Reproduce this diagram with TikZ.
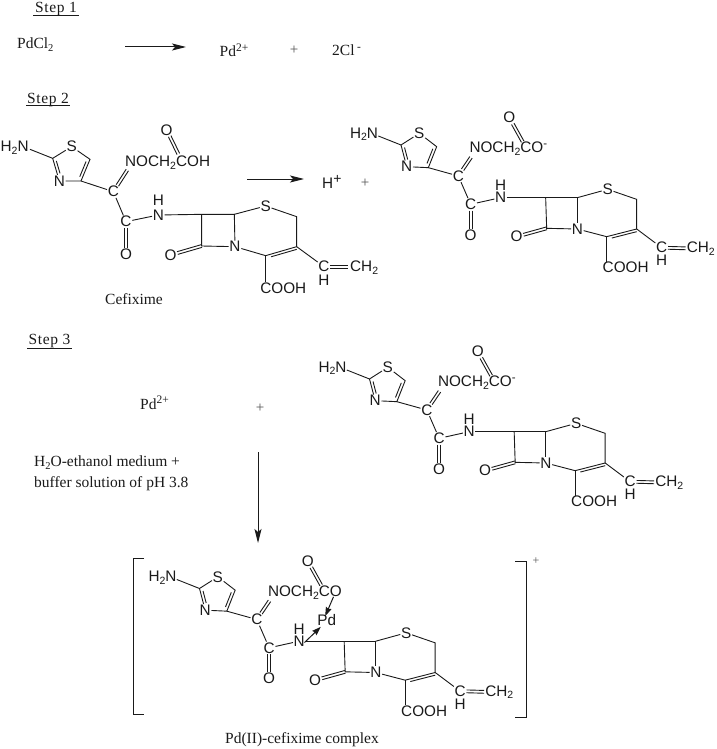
\documentclass[tikz,border=0pt]{standalone}
\usepackage{fontspec}
\setmainfont{Liberation Serif}
\setsansfont{Liberation Sans}
\newfontfamily\stepfont[LetterSpace=4]{Liberation Serif}
\usetikzlibrary{arrows.meta,calc}
\newcommand{\sbs}[1]{\raisebox{-2.8pt}{\fontsize{10.5}{10.5}\selectfont #1}}
\newcommand{\sps}[1]{\raisebox{5.5pt}{\fontsize{11.5}{11.5}\selectfont #1}}
\definecolor{ink}{HTML}{1A1A1A}
\tikzset{
  bond/.style={draw=ink,line width=.9pt},
  atom/.style={font=\sffamily\fontsize{15.3}{15.3}\selectfont,text=ink,inner sep=.6pt},
  label/.style={font=\fontsize{15.5}{17}\selectfont,text=ink,inner sep=0pt},
  steplabel/.style={font=\stepfont\fontsize{15.5}{16}\selectfont,text=ink,inner sep=0pt},
  plusmark/.style={font=\fontsize{15}{15}\selectfont,text=ink!75,inner sep=0pt},
  rxn/.style={draw=ink,line width=1pt,-{Stealth[length=14pt,width=7pt,inset=3pt]}},
  pdarrow/.style={draw=ink,line width=1pt,-{Stealth[length=9pt,width=6pt,inset=1pt]}},
  brk/.style={draw=ink,line width=1pt},
  mol/.style={x=.33333pt,y=-.33333pt}
}
% two parallel strokes between two atoms
\newcommand{\dblb}[2]{
  \path (#1) -- (#2) coordinate[pos=0] (dbs) coordinate[pos=1] (dbe);
  \draw[bond] ($(dbs)!1.4pt!90:(dbe)$) -- ($(dbe)!1.4pt!-90:(dbs)$);
  \draw[bond] ($(dbs)!1.4pt!-90:(dbe)$) -- ($(dbe)!1.4pt!90:(dbs)$);
}
\newcommand{\geomA}[1]{
  \coordinate (#1hn) at (90,118);  \coordinate (#1hnc) at (44,113);
  \coordinate (#1c2) at (158,145); \coordinate (#1ps) at (215,110);
  \coordinate (#1c5) at (270,148); \coordinate (#1c4) at (243,213);
  \coordinate (#1pn3) at (178,213);\coordinate (#1pca) at (340,245);
  \coordinate (#1pcb) at (378,335);\coordinate (#1pn) at (475,315);
  \coordinate (#1phn) at (475,272);\coordinate (#1po) at (378,432);
  \coordinate (#1q1) at (605,313); \coordinate (#1q2) at (703,313);
  \coordinate (#1pn2) at (705,410);\coordinate (#1q4) at (605,408);
  \coordinate (#1po2) at (512,435);\coordinate (#1ps2) at (797,288);
  \coordinate (#1c6) at (890,320); \coordinate (#1c7) at (890,410);
  \coordinate (#1c8) at (797,437); \coordinate (#1pcooh) at (850,535);
  \coordinate (#1c8e) at (797,515);\coordinate (#1pcv) at (972,470);
  \coordinate (#1phv) at (972,510);\coordinate (#1ch2) at (1050,472);
  \coordinate (#1chain) at (375,158);\coordinate (#1ime) at (382,180);
  \coordinate (#1ca) at (535,132); \coordinate (#1pox) at (500,60);
  \coordinate (#1cve) at (1045,470);
}
\newcommand{\geomB}[1]{
  \coordinate (#1hn) at (115,108); \coordinate (#1hnc) at (72,103);
  \coordinate (#1c2) at (183,135); \coordinate (#1ps) at (238,100);
  \coordinate (#1c5) at (290,140); \coordinate (#1c4) at (265,203);
  \coordinate (#1pn3) at (200,200);\coordinate (#1pca) at (355,228);
  \coordinate (#1pcb) at (392,313);\coordinate (#1pn) at (482,293);
  \coordinate (#1phn) at (482,257);\coordinate (#1po) at (392,405);
  \coordinate (#1q1) at (617,293); \coordinate (#1q2) at (712,293);
  \coordinate (#1pn2) at (712,387);\coordinate (#1q4) at (620,385);
  \coordinate (#1po2) at (530,410);\coordinate (#1ps2) at (803,268);
  \coordinate (#1c6) at (890,298); \coordinate (#1c7) at (890,387);
  \coordinate (#1c8) at (800,410); \coordinate (#1pcooh) at (857,503);
  \coordinate (#1c8e) at (800,485);\coordinate (#1pcv) at (965,443);
  \coordinate (#1phv) at (965,481);\coordinate (#1ch2) at (1040,446);
  \coordinate (#1chain) at (388,147);\coordinate (#1ime) at (393,172);
  \coordinate (#1ca) at (548,125); \coordinate (#1pox) at (508,53);
  \coordinate (#1cve) at (1037,445);
}
\newcommand{\molbody}[2]{
  \node[atom] (#1h2n) at (#1hnc) {H\sbs{2}N};
  \node[atom] (#1S) at (#1ps) {S};
  \node[atom] (#1N3) at (#1pn3) {N};
  \node[atom] (#1Ca) at (#1pca) {C};
  \node[atom] (#1Cb) at (#1pcb) {C};
  \node[atom] (#1N) at (#1pn) {N};
  \node[atom] (#1Hn) at (#1phn) {H};
  \node[atom] (#1O) at (#1po) {O};
  \node[atom] (#1N2) at (#1pn2) {N};
  \node[atom] (#1O2) at (#1po2) {O};
  \node[atom] (#1S2) at (#1ps2) {S};
  \node[atom] (#1cooh) at (#1pcooh) {COOH};
  \node[atom] (#1Cv) at (#1pcv) {C};
  \node[atom] (#1Hv) at (#1phv) {H};
  \node[atom,anchor=west,inner sep=0pt] (#1vin) at (#1ch2) {CH\sbs{2}};
  \node[atom,anchor=west,inner sep=0pt] (#1nc) at (#1chain) {#2};
  \node[atom] (#1Ox) at (#1pox) {O};
  \draw[bond] (#1hn) -- (#1c2) -- (#1S);
  \draw[bond] (#1S) -- (#1c5) -- (#1c4) -- (#1N3) -- (#1c2);
  \draw[bond] ($(#1c5)!.15!(#1c4)!2.8pt!-90:(#1c4)$) -- ($(#1c5)!.85!(#1c4)!2.8pt!-90:(#1c4)$);
  \draw[bond] ($(#1N3)!.3!(#1c2)!2.8pt!-90:(#1c2)$) -- ($(#1N3)!.85!(#1c2)!2.8pt!-90:(#1c2)$);
  \draw[bond] (#1c4) -- (#1Ca);
  \dblb{#1Ca}{#1ime}
  \draw[bond] (#1Ca) -- (#1Cb);
  \draw[bond] (#1Cb) -- (#1N);
  \dblb{#1Cb}{#1O}
  \dblb{#1ca}{#1Ox}
  \draw[bond] (#1N) -- (#1q1) -- (#1q2) -- (#1N2);
  \draw[bond] (#1q1) -- (#1q4) -- (#1N2);
  \dblb{#1q4}{#1O2}
  \draw[bond] (#1q2) -- (#1S2) -- (#1c6) -- (#1c7) -- (#1c8) -- (#1N2);
  \draw[bond] ($(#1c7)!.02!(#1c8)!2.6pt!90:(#1c8)$) -- ($(#1c7)!.85!(#1c8)!2.6pt!90:(#1c8)$);
  \draw[bond] (#1c8) -- (#1c8e);
  \draw[bond] (#1c7) -- (#1Cv);
  \dblb{#1Cv}{#1cve}
}
\begin{document}
\begin{tikzpicture}[x=1pt,y=-1pt]
\useasboundingbox (0,0) rectangle (716,749);
\fill[white] (0,0) rectangle (716,749);
% Step 1
\node[steplabel] (st1) at (56,9.5) {Step 1};
\draw[bond] (33,15) -- (79,15);
\node[label,anchor=west] (pdcl) at (17,45) {PdCl\sbs{2}};
\coordinate (a1s) at (125,47); \coordinate (a1e) at (186,47);
\draw[rxn] (a1s) -- (a1e);
\node[label,anchor=west] (pd1) at (219.5,50.5) {Pd\sps{2+}};
\node[plusmark] (pl1) at (294,50) {+};
\node[label,anchor=west] (cl) at (332,50.5) {2Cl\,\sps{-}};
% Step 2
\node[steplabel] (st2) at (48,100) {Step 2};
\draw[bond] (26,105.5) -- (70,105.5);
\begin{scope}[mol,shift={(0pt,-110pt)}]
  \geomA{a}
  \molbody{a}{NOCH\sbs{2}COH}
\end{scope}
\coordinate (a2s) at (247,179); \coordinate (a2e) at (304,179);
\draw[rxn] (a2s) -- (a2e);
\node[atom,anchor=west,inner sep=0pt] (hp) at (322,182) {H\raisebox{5.5pt}{\fontsize{14}{14}\selectfont +}};
\node[plusmark] (pl2) at (365,183) {+};
\begin{scope}[mol,shift={(340pt,-100pt)}]
  \geomB{b}
  \molbody{b}{NOCH\sbs{2}CO\sps{-}}
\end{scope}
\node[label] (cfx) at (134,299) {Cefixime};
% Step 3
\node[steplabel] (st3) at (49.5,341.5) {Step 3};
\draw[bond] (27,348) -- (72,348);
\node[label,anchor=west] (pd3) at (140,403) {Pd\sps{2+}};
\node[plusmark] (pl3) at (260,408) {+};
\node[label,anchor=west] (med1) at (34,463) {H\sbs{2}O-ethanol medium +};
\node[label,anchor=west] (med2) at (34,484) {buffer solution of pH 3.8};
\coordinate (a3s) at (258,452); \coordinate (a3e) at (258,543);
\draw[rxn] (a3s) -- (a3e);
\begin{scope}[mol,shift={(308.5pt,-334pt)}]
  \geomB{c}
  \molbody{c}{NOCH\sbs{2}CO\sps{-}}
\end{scope}
% Complex
\begin{scope}[mol,shift={(138.5pt,-543.5pt)}]
  \geomB{d}
  \molbody{d}{NOCH\sbs{2}CO}
  \node[atom,inner sep=0pt] (dPd) at (565,230) {Pd};
  \coordinate (dOa) at (585,160); \coordinate (dPa) at (560,218);
  \coordinate (dNa) at (498,297); \coordinate (dPb) at (547,250);
  \draw[pdarrow] (dOa) -- (dPa);
  \draw[pdarrow] (dNa) -- (dPb);
\end{scope}
\coordinate (lb1) at (144,558); \coordinate (lb2) at (133.5,558);
\coordinate (lb3) at (133.5,714); \coordinate (lb4) at (144,714);
\draw[brk] (lb1) -- (lb2) -- (lb3) -- (lb4);
\coordinate (rb1) at (515,561); \coordinate (rb2) at (526,561);
\coordinate (rb3) at (526,717); \coordinate (rb4) at (515,717);
\draw[brk] (rb1) -- (rb2) -- (rb3) -- (rb4);
\node[plusmark,font=\fontsize{12}{12}\selectfont] (plc) at (536,561) {+};
\node[label] (cpx) at (302,740) {Pd(II)-cefixime complex};
\end{tikzpicture}
\end{document}
